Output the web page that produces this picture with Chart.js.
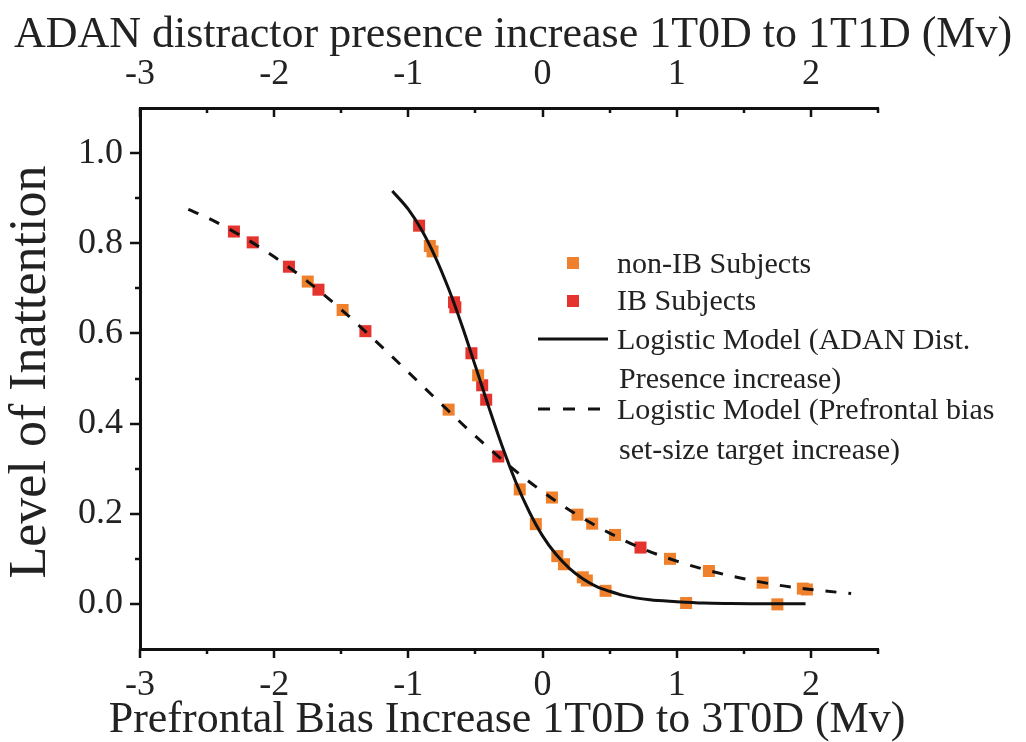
<!DOCTYPE html>
<html>
<head>
<meta charset="utf-8">
<script src="https://cdn.jsdelivr.net/npm/chart.js@4.4.0/dist/chart.umd.min.js"></script>
<style>
  html, body { margin: 0; padding: 0; background: #fff; }
  canvas { display: block; }
</style>
</head>
<body>
<canvas id="myChart" width="1026" height="742"></canvas>
<script>
// non-IB subjects (orange squares)
const nonIbX = [-1.75, -1.49, -0.84, -0.82, -0.48, -0.70, -0.17, 0.07, -0.05, 0.11, 0.16, 0.26, 0.37, 0.54, 0.30, 0.33, 0.47, 0.95, 1.07, 1.24, 1.64, 1.75, 1.94, 1.97];
const nonIbY = [0.715, 0.652, 0.794, 0.782, 0.507, 0.431, 0.254, 0.236, 0.177, 0.106, 0.088, 0.198, 0.178, 0.153, 0.059, 0.052, 0.029, 0.100, 0.002, 0.073, 0.047, -0.001, 0.034, 0.032];

// IB subjects (red squares)
const ibX = [-2.30, -2.16, -1.89, -1.67, -1.32, -0.92, -0.66, -0.65, -0.53, -0.45, -0.42, -0.33, 0.73];
const ibY = [0.826, 0.802, 0.748, 0.697, 0.605, 0.839, 0.669, 0.658, 0.556, 0.485, 0.453, 0.327, 0.125];

// logistic model, ADAN distractor presence (solid)
const adanFitX = [-1.12, -1.0, -0.9, -0.8, -0.7, -0.6, -0.5, -0.4, -0.3, -0.2, -0.1, 0, 0.1, 0.2, 0.3, 0.4, 0.5, 0.6, 0.8, 1.0, 1.2, 1.4, 1.6, 1.8, 1.96];
const adanFitY = [0.916, 0.875, 0.829, 0.770, 0.699, 0.617, 0.527, 0.436, 0.349, 0.271, 0.205, 0.151, 0.110, 0.079, 0.056, 0.039, 0.028, 0.019, 0.009, 0.005, 0.002, 0.001, 0.0005, 0.0002, 0.0001];

// logistic model, prefrontal bias (dashed)
const prefFitX = [-2.64, -2.5, -2.25, -2.0, -1.75, -1.5, -1.25, -1.0, -0.75, -0.5, -0.25, 0, 0.25, 0.5, 0.75, 1.0, 1.25, 1.5, 1.75, 2.0, 2.3];
const prefFitY = [0.875, 0.857, 0.817, 0.770, 0.715, 0.653, 0.585, 0.514, 0.442, 0.372, 0.307, 0.249, 0.199, 0.157, 0.122, 0.095, 0.073, 0.056, 0.042, 0.032, 0.023];

const xTicks = [-3, -2, -1, 0, 1, 2];
const xMinorTicks = [-2.5, -1.5, -0.5, 0.5, 1.5, 2.5];
const yTicks = [0, 0.2, 0.4, 0.6, 0.8, 1.0];
const yMinorTicks = [0.1, 0.3, 0.5, 0.7, 0.9];

const ORANGE = '#F0812C';
const RED = '#E5332E';
const INK = '#111';
const FONT = "'Liberation Serif', 'DejaVu Serif', serif";

const toPoints = (xs, ys) => xs.map((x, i) => ({x: x, y: ys[i]}));

// tick marks on the axes, with shorter minor ticks
const tickMarks = {
  id: 'tickMarks',
  afterDraw(chart) {
    const {ctx, chartArea: a, scales} = chart;
    ctx.save();
    ctx.strokeStyle = INK;
    ctx.lineWidth = 2.5;
    ctx.beginPath();
    const xt = (scale, y, dir, vals, len) => vals.forEach(v => {
      const px = Math.round(scale.getPixelForValue(v));
      ctx.moveTo(px, y);
      ctx.lineTo(px, y + dir * len);
    });
    xt(scales.x, a.bottom, 1, xTicks, 9);
    xt(scales.x, a.bottom, 1, xMinorTicks, 5);
    xt(scales.x2, a.top, 1, xTicks, 9);
    xt(scales.x2, a.top, 1, xMinorTicks, 5);
    yTicks.forEach(v => {
      const py = Math.round(scales.y.getPixelForValue(v));
      ctx.moveTo(a.left, py); ctx.lineTo(a.left - 10, py);
    });
    yMinorTicks.forEach(v => {
      const py = Math.round(scales.y.getPixelForValue(v));
      ctx.moveTo(a.left, py); ctx.lineTo(a.left - 5, py);
    });
    ctx.stroke();
    ctx.restore();
  }
};

// axis titles, drawn without the axis-width squeeze
const axisTitles = {
  id: 'axisTitles',
  afterDraw(chart) {
    const {ctx} = chart;
    ctx.save();
    ctx.fillStyle = '#222';
    ctx.textAlign = 'center';
    ctx.textBaseline = 'middle';
    ctx.font = '44px ' + FONT;
    ctx.fillText('ADAN distractor presence increase 1T0D to 1T1D (Mv)', 513, 35);
    ctx.fillText('Prefrontal Bias Increase 1T0D to 3T0D (Mv)', 507, 720);
    ctx.translate(31, 372);
    ctx.rotate(-Math.PI / 2);
    ctx.font = '52px ' + FONT;
    ctx.fillText('Level of Inattention', 0, 0);
    ctx.restore();
  }
};

// legend inside the plot, with two-line labels
const insideLegend = {
  id: 'insideLegend',
  afterDraw(chart) {
    const {ctx} = chart;
    ctx.save();
    ctx.fillStyle = ORANGE;
    ctx.fillRect(567, 257, 12, 12);
    ctx.fillStyle = RED;
    ctx.fillRect(567, 295, 12, 12);
    ctx.strokeStyle = INK;
    ctx.lineWidth = 3;
    ctx.beginPath();
    ctx.moveTo(538, 339); ctx.lineTo(608, 339);
    ctx.stroke();
    ctx.setLineDash([12, 13]);
    ctx.beginPath();
    ctx.moveTo(538, 409); ctx.lineTo(602, 409);
    ctx.stroke();
    ctx.setLineDash([]);
    ctx.fillStyle = '#222';
    ctx.font = '30px ' + FONT;
    ctx.textBaseline = 'middle';
    ctx.textAlign = 'left';
    ctx.fillText('non-IB Subjects', 617, 265);
    ctx.fillText('IB Subjects', 617, 302);
    ctx.fillText('Logistic Model (ADAN Dist.', 617, 341);
    ctx.fillText('Presence increase)', 619, 380);
    ctx.fillText('Logistic Model (Prefrontal bias', 617, 411);
    ctx.fillText('set-size target increase)', 619, 451);
    ctx.restore();
  }
};

const ctx = document.getElementById('myChart');

new Chart(ctx, {
  type: 'scatter',
  data: {
    datasets: [{
      label: 'Logistic Model (ADAN Dist. Presence increase)',
      type: 'line',
      data: toPoints(adanFitX, adanFitY),
      borderColor: INK,
      borderWidth: 3,
      pointRadius: 0,
      cubicInterpolationMode: 'monotone',
      fill: false,
      order: 0
    }, {
      label: 'Logistic Model (Prefrontal bias set-size target increase)',
      type: 'line',
      data: toPoints(prefFitX, prefFitY),
      borderColor: INK,
      borderWidth: 3,
      borderDash: [11, 12],
      pointRadius: 0,
      cubicInterpolationMode: 'monotone',
      fill: false,
      order: 0
    }, {
      label: 'non-IB Subjects',
      data: toPoints(nonIbX, nonIbY),
      pointStyle: 'rect',
      pointRadius: 8.5,
      backgroundColor: ORANGE,
      borderWidth: 0,
      order: 1
    }, {
      label: 'IB Subjects',
      data: toPoints(ibX, ibY),
      pointStyle: 'rect',
      pointRadius: 8.5,
      backgroundColor: RED,
      borderWidth: 0,
      order: 1
    }]
  },
  options: {
    responsive: false,
    animation: false,
    devicePixelRatio: 1,
    layout: { padding: { right: 148 } },
    plugins: {
      legend: { display: false },
      tooltip: { enabled: false }
    },
    scales: {
      x: {
        type: 'linear',
        position: 'bottom',
        min: -3,
        max: 2.5,
        afterBuildTicks: s => { s.ticks = xTicks.map(v => ({value: v})); },
        afterFit: s => { s.height = 93; },
        grid: { display: false, drawTicks: false },
        border: { display: true, width: 3, color: INK },
        ticks: {
          padding: 15,
          color: '#222',
          font: { family: FONT, size: 36 },
          callback: v => String(v)
        }
      },
      x2: {
        type: 'linear',
        position: 'top',
        min: -3,
        max: 2.5,
        afterBuildTicks: s => { s.ticks = xTicks.map(v => ({value: v})); },
        afterFit: s => { s.height = 108; },
        grid: { display: false, drawTicks: false },
        border: { display: true, width: 3, color: INK },
        ticks: {
          padding: 12,
          color: '#222',
          font: { family: FONT, size: 36 },
          callback: v => String(v)
        }
      },
      y: {
        type: 'linear',
        position: 'left',
        min: -0.1,
        max: 1.1,
        afterBuildTicks: s => { s.ticks = yTicks.map(v => ({value: v})); },
        afterFit: s => { s.width = 140; },
        grid: { display: false, drawTicks: false },
        border: { display: true, width: 3, color: INK },
        ticks: {
          padding: 17,
          color: '#222',
          font: { family: FONT, size: 36 },
          callback: v => v.toFixed(1)
        }
      }
    }
  },
  plugins: [tickMarks, axisTitles, insideLegend]
});
</script>
</body>
</html>
